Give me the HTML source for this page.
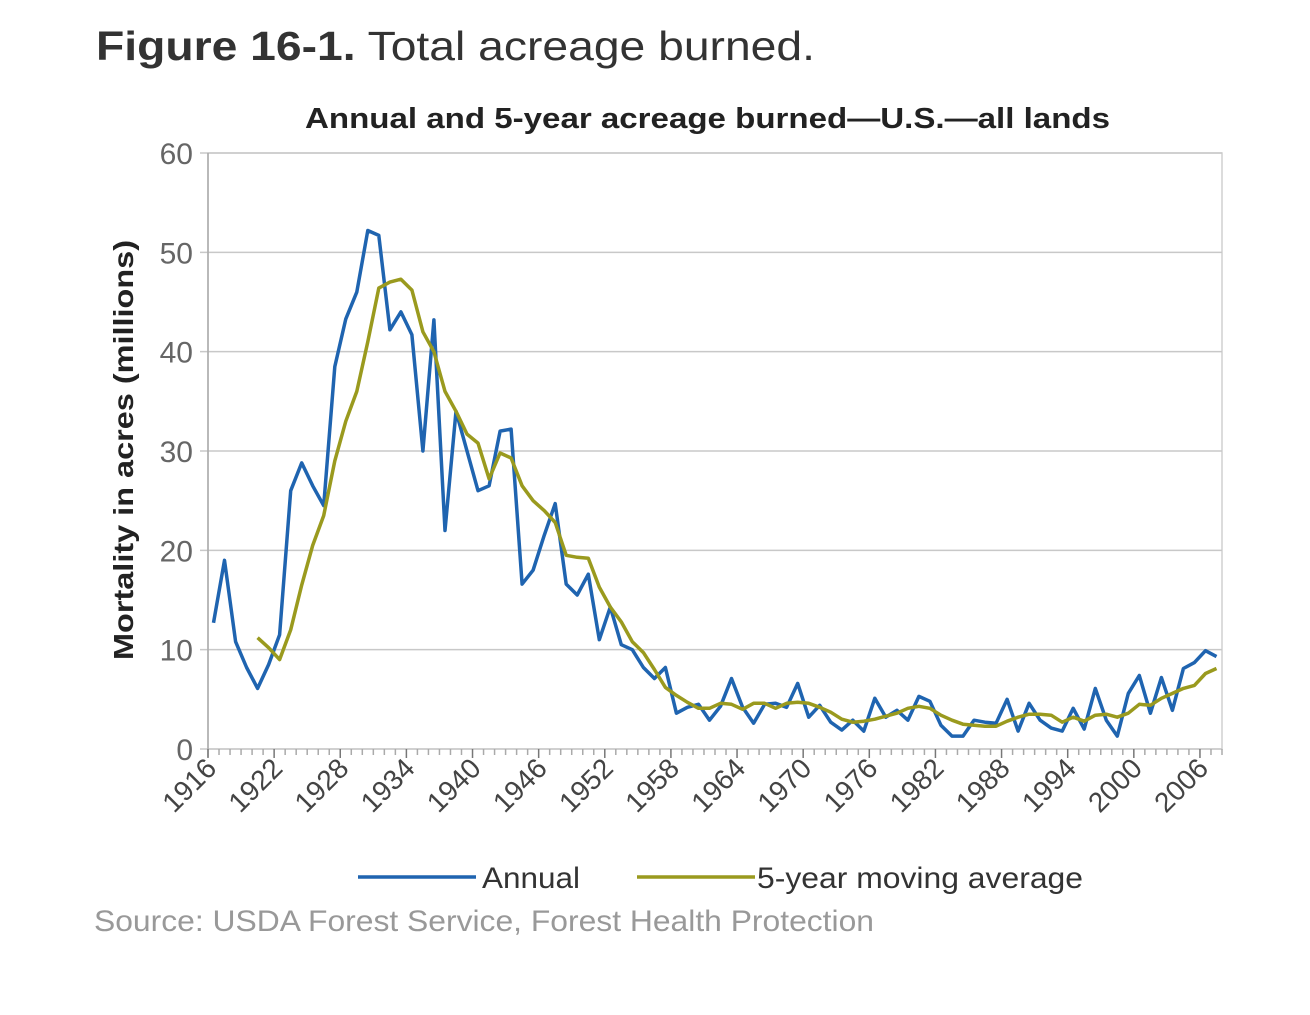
<!DOCTYPE html>
<html><head><meta charset="utf-8"><style>
body{margin:0;background:#fff;width:1310px;height:1010px;overflow:hidden;font-family:"Liberation Sans",sans-serif;}
</style></head><body>
<svg width="1310" height="1010" xmlns="http://www.w3.org/2000/svg">
<text x="96" y="60" font-size="41" fill="#333" textLength="719" lengthAdjust="spacingAndGlyphs"><tspan font-weight="bold">Figure 16-1.</tspan> Total acreage burned.</text>
<text x="305" y="128" font-size="29" font-weight="bold" fill="#222" textLength="805" lengthAdjust="spacingAndGlyphs">Annual and 5-year acreage burned—U.S.—all lands</text>
<text transform="translate(133,660) rotate(-90)" font-size="28" font-weight="bold" fill="#222" textLength="420" lengthAdjust="spacingAndGlyphs">Mortality in acres (millions)</text>
<g id="grid"></g><g id="axes"></g><g id="series"></g>
<g>
<line x1="358" y1="877" x2="476" y2="877" stroke="#1f64b0" stroke-width="3.5"/>
<text x="482" y="888" font-size="30" fill="#333" textLength="98" lengthAdjust="spacingAndGlyphs">Annual</text>
<line x1="637" y1="877" x2="755" y2="877" stroke="#9a9a1e" stroke-width="3.5"/>
<text x="757" y="888" font-size="30" fill="#333" textLength="326" lengthAdjust="spacingAndGlyphs">5-year moving average</text>
</g>
<text x="94" y="931" font-size="30" fill="#999" textLength="780" lengthAdjust="spacingAndGlyphs">Source: USDA Forest Service, Forest Health Protection</text>
</svg>
<script>
const startYear = 1916;
const annual = [12.7,19,10.8,8.2,6.1,8.5,11.5,26,28.8,26.5,24.5,38.5,43.3,46,52.2,51.7,42.2,44,41.7,30,43.2,22,34,30,26,26.5,32,32.2,16.6,18,21.5,24.7,16.6,15.5,17.6,11,14.3,10.5,10,8.2,7.1,8.2,3.6,4.2,4.5,2.9,4.3,7.1,4.2,2.6,4.5,4.6,4.2,6.6,3.2,4.4,2.7,1.9,2.9,1.8,5.1,3.2,3.9,2.9,5.3,4.8,2.4,1.3,1.3,2.9,2.7,2.6,5.0,1.8,4.6,2.9,2.1,1.8,4.1,2.0,6.1,2.9,1.3,5.6,7.4,3.6,7.2,3.9,8.1,8.7,9.9,9.3];
const avgStart = 1920;
const movingAvg = [11.2,10.2,9.0,12,16.5,20.5,23.5,29,33,36,41,46.4,47,47.3,46.2,42,40,36,34,31.7,30.8,27.2,29.8,29.3,26.5,25,24,22.8,19.5,19.3,19.2,16.3,14.3,12.8,10.8,9.7,8.0,6.2,5.4,4.7,4.1,4.1,4.6,4.5,4.0,4.6,4.6,4.1,4.6,4.7,4.6,4.2,3.7,3.0,2.7,2.8,3.0,3.3,3.6,4.1,4.3,4.1,3.4,2.9,2.5,2.4,2.3,2.3,2.8,3.2,3.5,3.5,3.4,2.7,3.2,2.8,3.4,3.5,3.2,3.6,4.5,4.4,5.1,5.6,6.1,6.4,7.6,8.1];
const yTicks = [0,10,20,30,40,50,60];
const xLabelYears = [1916,1922,1928,1934,1940,1946,1952,1958,1964,1970,1976,1982,1988,1994,2000,2006];

const NS="http://www.w3.org/2000/svg";
const L=208,R=1222,T=153,B=749,N=annual.length;
const bw=(R-L)/N;
const xPos=yr=>L+bw*(yr-startYear)+bw/2;
const xEdge=yr=>L+bw*(yr-startYear);
const yPos=v=>B-(v/60)*(B-T);
function mk(tag,attrs,parent){const e=document.createElementNS(NS,tag);for(const k in attrs)e.setAttribute(k,attrs[k]);document.getElementById(parent).appendChild(e);return e;}

mk('rect',{x:L,y:T,width:R-L,height:B-T,fill:'none',stroke:'#d0d0d0','stroke-width':1.5},'grid');
yTicks.forEach(v=>{
  const ln=mk('line',{x1:L-8,x2:R,y1:yPos(v),y2:yPos(v),stroke:'#c8c8c8','stroke-width':1.5},'grid');
  
  
  const t=mk('text',{x:193,y:yPos(v)+11,'font-size':30,'text-anchor':'end',fill:'#666'},'axes');
  t.textContent=v;
  
  
});
mk('line',{x1:L,x2:L,y1:T,y2:B+8,stroke:'#aaa','stroke-width':1.5},'axes');
for(let i=0;i<=N;i++){
  const yr=startYear+i, major=(yr-startYear)%6===0;
  mk('line',{x1:xEdge(yr),x2:xEdge(yr),y1:B,y2:B+(major?9:6),stroke:major?'#777':'#aaa','stroke-width':1.5},'axes');
}
xLabelYears.forEach(yr=>{
  const x=xEdge(yr)+10,y=770;
  const t=mk('text',{x:x,y:y,'font-size':28,'text-anchor':'end',fill:'#444',transform:`rotate(-45 ${x} ${y})`},'axes');
  t.textContent=yr;
  
  
});
const pa=annual.map((v,i)=>xPos(startYear+i).toFixed(1)+','+yPos(v).toFixed(1)).join(' ');
const p1=mk('polyline',{points:pa,fill:'none',stroke:'#1f64b0','stroke-width':3.5,'stroke-linejoin':'round'},'series');


const pm=movingAvg.map((v,i)=>xPos(avgStart+i).toFixed(1)+','+yPos(v).toFixed(1)).join(' ');
const p2=mk('polyline',{points:pm,fill:'none',stroke:'#9a9a1e','stroke-width':3.5,'stroke-linejoin':'round'},'series');


</script>
</body></html>
